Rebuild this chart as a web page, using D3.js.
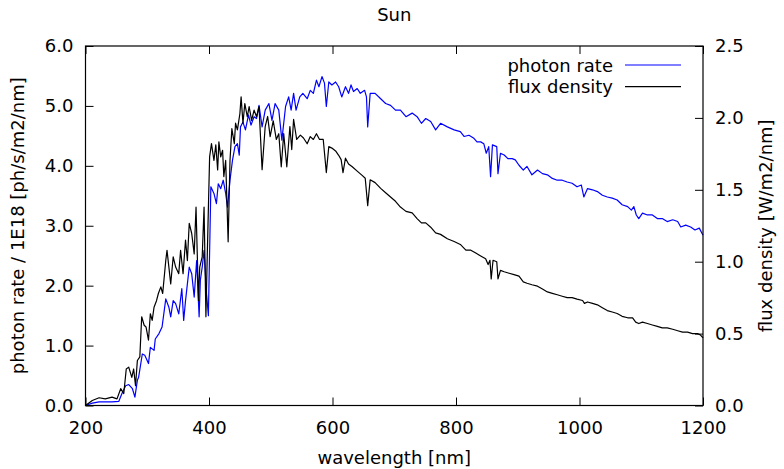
<!DOCTYPE html>
<html>
<head>
<meta charset="utf-8">
<script src="https://cdn.jsdelivr.net/npm/d3@7"></script>
<style>
  body { margin: 0; background: #fff; }
  text { font-family: "DejaVu Sans", sans-serif; }
</style>
</head>
<body>
<svg id="chart" width="784" height="469"></svg>
<script>
// photon rate (left axis, 1E18 ph/s/m2/nm)
const photonWl = [200,211,222,232,243,254,259,265,270,276,280,284,286,292,296,302,305,311,313,319,324,330,335,338,342,346,351,356,359,362,368,372,376,380,384,386,389,392,396,399,403,408,412,415,419,423,427,430,434,438,442,446,449,451,455,459,464,468,473,477,481,486,491,497,502,507,513,518,524,529,533,537,541,547,552,559,564,569,574,578,583,587,590,594,599,605,610,615,621,626,630,634,640,645,652,655,657,661,669,678,686,694,702,710,719,729,737,744,751,759,767,775,786,797,807,813,821,829,834,840,845,849,853,856,859,866,868,872,878,884,891,896,902,909,915,923,932,940,948,956,964,972,980,988,996,1003,1007,1013,1021,1029,1037,1045,1053,1061,1069,1078,1084,1088,1092,1096,1102,1110,1118,1126,1134,1142,1151,1159,1164,1172,1180,1187,1194,1200];
const photonRate = [0,0.04,0.06,0.06,0.06,0.07,0.2,0.33,0.35,0.28,0.14,0.42,0.47,0.86,0.84,0.7,0.97,0.92,1.11,1.2,1.31,1.78,1.64,1.48,1.75,1.7,1.53,1.95,1.42,1.75,2.31,2.2,1.81,2.42,1.48,2.09,2.31,2.59,1.87,1.5,3.65,3.54,3.37,3.7,3.62,3.76,3.54,3.31,3.76,4.09,4.32,4.37,4.18,4.65,4.73,4.6,4.85,4.68,4.82,4.79,5.01,4.65,4.93,5.04,4.76,5.04,4.93,4.43,4.99,5.15,4.93,5.21,4.93,5.15,5.21,5.12,5.26,5.21,5.43,5.32,5.49,5.38,4.99,5.4,5.35,5.4,5.32,5.15,5.32,5.21,5.35,5.24,5.29,5.21,5.26,5.15,4.65,5.21,5.21,5.12,5.04,5.01,4.93,4.93,4.82,4.88,4.82,4.71,4.79,4.74,4.6,4.71,4.65,4.6,4.57,4.49,4.51,4.46,4.40,4.40,4.37,4.21,4.32,3.82,4.35,4.32,3.87,4.21,4.18,4.12,4.12,4.10,4.01,3.93,3.99,3.85,3.93,3.87,3.85,3.79,3.76,3.76,3.73,3.71,3.65,3.68,3.48,3.62,3.60,3.57,3.51,3.48,3.46,3.43,3.35,3.32,3.26,3.32,3.18,3.12,3.21,3.18,3.18,3.12,3.12,3.07,3.10,3.07,2.98,3.01,2.98,2.93,2.96,2.84];

// flux density (right axis, W/m2/nm)
const fluxWl = [200,211,222,232,243,251,257,262,266,270,275,278,281,284,288,291,295,298,302,305,308,311,315,318,322,325,330,332,335,338,342,346,351,354,358,362,365,368,372,376,379,383,385,389,392,395,397,401,404,408,411,414,416,419,422,424,427,431,434,437,441,443,446,450,452,455,458,462,465,469,473,477,481,486,491,495,499,504,509,513,517,521,526,531,534,537,542,548,553,559,564,569,574,579,585,590,594,599,605,610,614,617,621,626,632,640,648,653,657,661,669,678,686,694,702,710,719,729,737,744,751,759,767,775,786,797,807,816,824,832,840,848,852,855,857,860,866,868,872,878,886,894,902,909,915,923,932,940,948,956,964,972,980,988,996,1005,1008,1013,1021,1029,1037,1045,1053,1061,1069,1078,1086,1091,1096,1102,1110,1118,1126,1134,1142,1151,1159,1167,1175,1183,1191,1196,1200];
const fluxDensity = [0,0.035,0.054,0.046,0.058,0.046,0.117,0.083,0.254,0.267,0.196,0.254,0.138,0.313,0.338,0.617,0.558,0.546,0.454,0.638,0.592,0.683,0.729,0.779,0.825,0.779,1.008,1.079,0.963,0.846,1.033,0.963,0.917,1.079,0.917,1.15,1.008,1.267,1.196,1.054,1.379,0.729,0.963,1.033,1.379,0.617,1.008,1.729,1.821,1.704,1.813,1.638,1.833,1.729,1.775,1.592,1.704,1.138,1.704,1.925,1.821,1.963,1.917,2.029,2.146,1.963,2.1,2.008,2.079,1.983,2.054,2.008,2.079,1.64,1.94,2.01,1.87,1.98,1.85,1.89,1.66,1.89,1.66,1.94,1.78,1.99,1.85,1.88,1.86,1.82,1.87,1.85,1.89,1.85,1.85,1.62,1.80,1.79,1.77,1.74,1.71,1.62,1.72,1.68,1.66,1.63,1.60,1.58,1.39,1.57,1.55,1.51,1.48,1.45,1.42,1.38,1.35,1.34,1.30,1.27,1.27,1.24,1.20,1.19,1.16,1.14,1.12,1.08,1.08,1.06,1.04,1.02,0.98,1.01,0.88,1.01,1.00,0.88,0.94,0.93,0.92,0.91,0.90,0.86,0.85,0.84,0.83,0.81,0.79,0.78,0.77,0.76,0.75,0.75,0.74,0.73,0.71,0.72,0.71,0.70,0.68,0.66,0.65,0.64,0.62,0.61,0.61,0.58,0.57,0.58,0.57,0.56,0.55,0.54,0.54,0.53,0.52,0.51,0.51,0.50,0.50,0.49,0.47];

const xTicks = [200, 400, 600, 800, 1000, 1200];
const leftTicks = [0, 1, 2, 3, 4, 5, 6];
const rightTicks = [0, 0.5, 1, 1.5, 2, 2.5];
const seriesNames = ["photon rate", "flux density"];

const plotLeft = 85.5, plotRight = 703, plotTop = 46, plotBottom = 405.5;
const fontSize = 18;

const x = d3.scaleLinear().domain([200, 1200]).range([plotLeft, plotRight]);
const yL = d3.scaleLinear().domain([0, 6]).range([plotBottom, plotTop]);
const yR = d3.scaleLinear().domain([0, 2.5]).range([plotBottom, plotTop]);

const svg = d3.select('#chart');

// series
const photonLine = d3.line().x((d, i) => x(photonWl[i])).y(d => yL(d));
const fluxLine = d3.line().x((d, i) => x(fluxWl[i])).y(d => yR(d));

svg.append('path').datum(photonRate)
  .attr('d', photonLine).attr('fill', 'none')
  .attr('stroke', '#0000ff').attr('stroke-width', 1.2).attr('stroke-linejoin', 'round');
svg.append('path').datum(fluxDensity)
  .attr('d', fluxLine).attr('fill', 'none')
  .attr('stroke', '#000').attr('stroke-width', 1.2).attr('stroke-linejoin', 'round');

// axes, ticks pointing inwards
function style(g) {
  g.attr('font-family', '"DejaVu Sans", sans-serif').attr('font-size', fontSize).attr('color', '#000');
  g.select('.domain').remove();
}
svg.append('g').attr('transform', `translate(0,${plotBottom})`)
  .call(d3.axisBottom(x).tickValues(xTicks).tickSize(-8).tickPadding(16).tickFormat(d3.format('d')))
  .call(style);
svg.append('g').attr('transform', `translate(0,${plotTop})`)
  .call(d3.axisTop(x).tickValues(xTicks).tickSize(-8).tickFormat(''))
  .call(style);
svg.append('g').attr('transform', `translate(${plotLeft},0)`)
  .call(d3.axisLeft(yL).tickValues(leftTicks).tickSize(-8).tickPadding(12).tickFormat(d3.format('.1f')))
  .call(style);
svg.append('g').attr('transform', `translate(${plotRight},0)`)
  .call(d3.axisRight(yR).tickValues(rightTicks).tickSize(-8).tickPadding(12).tickFormat(d3.format('.1f')))
  .call(style);

// border
svg.append('rect').attr('x', plotLeft).attr('y', plotTop)
  .attr('width', plotRight - plotLeft).attr('height', plotBottom - plotTop)
  .attr('fill', 'none').attr('stroke', '#000').attr('stroke-width', 1.2);

// titles
svg.append('text').attr('x', (plotLeft + plotRight) / 2).attr('y', 21)
  .attr('text-anchor', 'middle').attr('font-size', fontSize).text('Sun');
svg.append('text').attr('x', (plotLeft + plotRight) / 2).attr('y', 464)
  .attr('text-anchor', 'middle').attr('font-size', fontSize).text('wavelength [nm]');
svg.append('text').attr('transform', `translate(24,${(plotTop + plotBottom) / 2}) rotate(-90)`)
  .attr('text-anchor', 'middle').attr('font-size', fontSize).text('photon rate / 1E18 [ph/s/m2/nm]');
svg.append('text').attr('transform', `translate(772,${(plotTop + plotBottom) / 2}) rotate(-90)`)
  .attr('text-anchor', 'middle').attr('font-size', fontSize).text('flux density [W/m2/nm]');

// key
const keyColors = ['#0000ff', '#000'];
const key = svg.append('g');
seriesNames.forEach((name, i) => {
  const cy = 65 + i * 21.7;
  key.append('text').attr('x', 613).attr('y', cy + 6.5)
    .attr('text-anchor', 'end').attr('font-size', fontSize).text(name);
  key.append('line').attr('x1', 625).attr('x2', 681).attr('y1', cy).attr('y2', cy)
    .attr('stroke', keyColors[i]).attr('stroke-width', 1.2);
});
</script>
</body>
</html>
